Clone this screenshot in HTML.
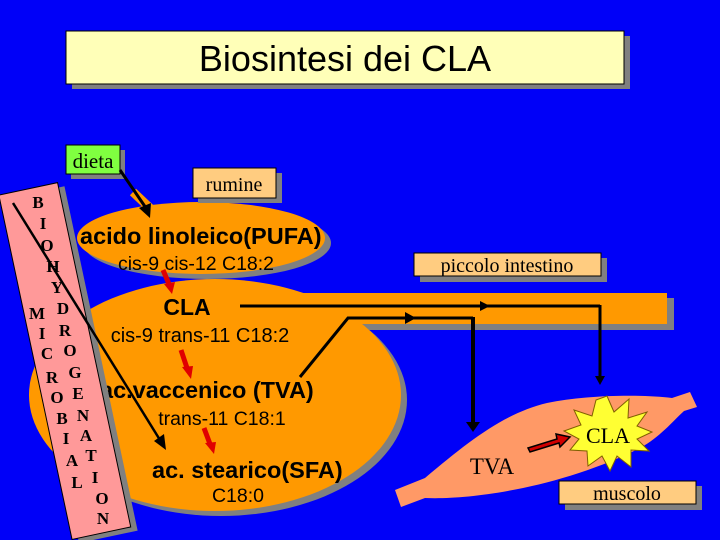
<!DOCTYPE html>
<html><head><meta charset="utf-8"><style>
html,body{margin:0;padding:0;background:#0000f8;}
svg{display:block}
.s{font-family:"Liberation Sans",sans-serif;fill:#000}
.r{font-family:"Liberation Serif",serif;fill:#000}
.L{font-family:"Liberation Serif",serif;font-weight:bold;font-size:17px;fill:#000;text-anchor:middle}
</style></head><body>
<svg width="720" height="540" viewBox="0 0 720 540" xmlns="http://www.w3.org/2000/svg">
<rect width="720" height="540" fill="#0000f8"/>
<!-- title -->
<rect x="72" y="36" width="558" height="53" fill="#808080"/>
<rect x="66" y="31" width="558" height="53" fill="#ffffb8" stroke="#000" stroke-width="1"/>
<text x="345" y="71" class="s" font-size="36" text-anchor="middle">Biosintesi dei CLA</text>

<!-- orange shapes shadows -->
<g fill="#808080">
<ellipse cx="207" cy="243" rx="124" ry="36"/>
<ellipse cx="221" cy="400" rx="186" ry="116"/>
<rect x="300" y="298" width="374" height="32"/>
</g>
<g fill="#ff9900">
<ellipse cx="201" cy="238" rx="124" ry="36"/>
<ellipse cx="215" cy="395" rx="186" ry="116"/>
<rect x="295" y="293" width="372" height="31"/>
</g>
<line x1="133" y1="192" x2="152" y2="210" stroke="#ff9900" stroke-width="9"/>

<!-- labels -->
<rect x="71" y="150" width="54" height="29" fill="#808080"/>
<rect x="66" y="145" width="54" height="29" fill="#80ff40" stroke="#000"/>
<text x="93" y="168" class="r" font-size="21" text-anchor="middle">dieta</text>
<rect x="198" y="173" width="84" height="30" fill="#808080"/>
<rect x="193" y="168" width="83" height="30" fill="#ffcc80" stroke="#000"/>
<text x="234" y="191" class="r" font-size="20" text-anchor="middle">rumine</text>
<rect x="420" y="258" width="187" height="24" fill="#808080"/>
<rect x="414" y="253" width="187" height="23" fill="#ffcc80" stroke="#000"/>
<text x="507" y="272" class="r" font-size="20" text-anchor="middle">piccolo intestino</text>

<!-- texts in blobs -->
<text x="80" y="244" class="s" font-size="23.5" font-weight="bold">acido linoleico(PUFA)</text>
<text x="196" y="270" class="s" font-size="19.5" text-anchor="middle">cis-9 cis-12 C18:2</text>
<text x="187" y="315" class="s" font-size="23" font-weight="bold" text-anchor="middle">CLA</text>
<text x="200" y="342" class="s" font-size="20" text-anchor="middle">cis-9 trans-11 C18:2</text>
<text x="100" y="398" class="s" font-size="23.5" font-weight="bold">ac.vaccenico (TVA)</text>
<text x="222" y="425" class="s" font-size="19.5" text-anchor="middle">trans-11 C18:1</text>
<text x="152" y="478" class="s" font-size="23.5" font-weight="bold">ac. stearico(SFA)</text>
<text x="238" y="502" class="s" font-size="19.5" text-anchor="middle">C18:0</text>

<!-- red arrows -->
<g stroke="#e00000" stroke-width="5" fill="none">
<line x1="163" y1="270" x2="169" y2="284"/>
<line x1="181" y1="350" x2="187" y2="368"/>
<line x1="204" y1="428" x2="210" y2="444"/>
</g>
<g fill="#e00000">
<path d="M164,284 L175,282 L172,294 z"/>
<path d="M182,367 L193,366 L191,379 z"/>
<path d="M205,443 L216,442 L214,454 z"/>
</g>

<!-- black routes -->
<g stroke="#000" stroke-width="3" fill="none">
<line x1="240" y1="306" x2="600" y2="306"/>
<line x1="600" y1="305" x2="600" y2="378"/>
<polyline points="300,377 348,318 473,318"/>
<line x1="473" y1="317" x2="473" y2="425"/>
</g>
<line x1="473" y1="317" x2="473" y2="425" stroke="#000" stroke-width="4"/>
<path d="M480,301 L490,306 L480,311 z" fill="#000"/>
<path d="M405,312 L416,318 L405,324 z" fill="#000"/>
<path d="M595,376 L600,385 L605,376 z" fill="#000"/>
<path d="M466,422 L473,432 L480,422 z" fill="#000"/>

<!-- muscle -->
<path d="M395,490 L401,507 L425,498 C470,500 560,488 640,448 C660,437 672,422 684,411 L697,407 L690,392 L672,398 C640,394 585,395 547,403 C505,413 470,440 425,478 Z" fill="#ff9966"/>
<!-- star -->
<polygon points="607,396 614,412 629,399 628,418 647,412 637,426 652,432 637,439 649,451 631,450 631,467 617,456 610,471 602,456 588,466 587,451 570,450 579,439 564,431 581,425 574,410 592,416 596,400" fill="#ffff33" stroke="#806000" stroke-width="1"/>
<text x="608" y="443" class="r" font-size="22" text-anchor="middle">CLA</text>
<text x="492" y="474" class="r" font-size="23" text-anchor="middle">TVA</text>
<path d="M528,448 L557,439 L556,434 L570,437 L560,447 L559,443 L530,452 z" fill="#d00000" stroke="#000" stroke-width="1.5"/>
<rect x="565" y="486" width="137" height="24" fill="#808080"/>
<rect x="559" y="481" width="137" height="23" fill="#ffcc80" stroke="#000"/>
<text x="627" y="500" class="r" font-size="20" text-anchor="middle">muscolo</text>

<!-- pink bar -->
<g transform="translate(65,362) rotate(-12)">
<rect x="-24" y="-172" width="60" height="352" fill="#808080"/>
<rect x="-30" y="-177" width="60" height="352" fill="#ff9999" stroke="#000" stroke-width="1"/>
</g>
<g>
<text x="38" y="208" class="L">B</text><text x="43" y="229" class="L">I</text><text x="47" y="251" class="L">O</text><text x="53" y="272" class="L">H</text><text x="57" y="293" class="L">Y</text><text x="63" y="314" class="L">D</text><text x="65" y="336" class="L">R</text><text x="70" y="356" class="L">O</text><text x="75" y="378" class="L">G</text><text x="78" y="399" class="L">E</text><text x="83" y="421" class="L">N</text><text x="86" y="441" class="L">A</text><text x="91" y="461" class="L">T</text><text x="95" y="483" class="L">I</text><text x="102" y="504" class="L">O</text><text x="103" y="524" class="L">N</text>
<text x="37" y="319" class="L">M</text><text x="42" y="339" class="L">I</text><text x="47" y="359" class="L">C</text><text x="52" y="383" class="L">R</text><text x="57" y="403" class="L">O</text><text x="62" y="424" class="L">B</text><text x="66" y="444" class="L">I</text><text x="72" y="466" class="L">A</text><text x="77" y="488" class="L">L</text>
</g>
<line x1="120" y1="170" x2="146" y2="208" stroke="#000" stroke-width="3"/>
<path d="M139,208 L150,218 L151,203 z" fill="#000"/>
<line x1="13" y1="203" x2="160" y2="440" stroke="#000" stroke-width="2.5"/>
<path d="M154,441 L166,450 L164,434 z" fill="#000"/>
</svg>
</body></html>
